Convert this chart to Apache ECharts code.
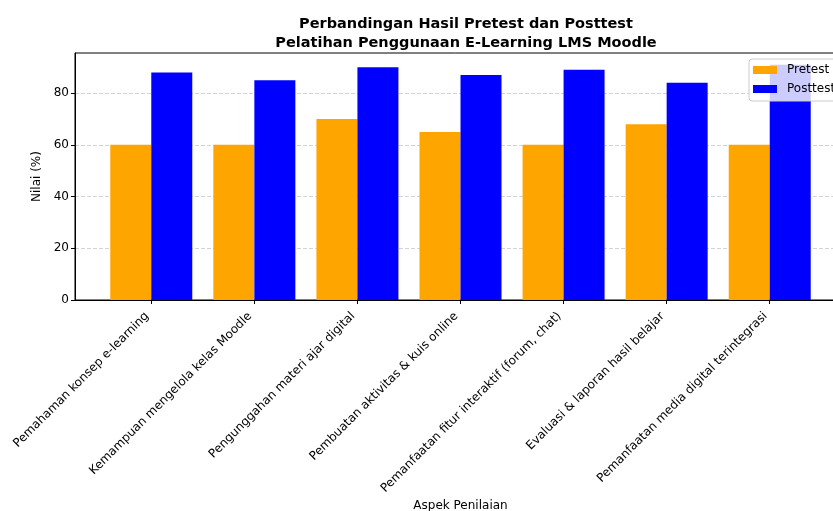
<!DOCTYPE html>
<html>
<head>
<meta charset="utf-8">
<script src="https://cdn.jsdelivr.net/npm/echarts@6/dist/echarts.min.js"></script>
<style>html,body{margin:0;padding:0;background:#fff}#c{width:833px;height:511px}</style>
</head>
<body>
<div id="c"></div>
<script>
const categories = [
  "Pemahaman konsep e-learning",
  "Kemampuan mengelola kelas Moodle",
  "Pengunggahan materi ajar digital",
  "Pembuatan aktivitas & kuis online",
  "Pemanfaatan fitur interaktif (forum, chat)",
  "Evaluasi & laporan hasil belajar",
  "Pemanfaatan media digital terintegrasi"
];
const pretest = [60, 60, 70, 65, 60, 68, 60];
const posttest = [88, 85, 90, 87, 89, 84, 91];
const yTicks = [0, 20, 40, 60, 80];

const FONT = "DejaVu Sans";
const idx = categories.map((_, i) => i);
const chart = echarts.init(document.getElementById('c'), null, {renderer: 'canvas'});
chart.setOption({
  animation: false,
  textStyle: {fontFamily: FONT},
  title: {
    text: "Perbandingan Hasil Pretest dan Posttest\nPelatihan Penggunaan E-Learning LMS Moodle",
    left: 461, top: 10, textAlign: 'center',
    textStyle: {fontFamily: FONT, fontSize: 14.5, fontWeight: 'bold', color: '#000', lineHeight: 19}
  },
  legend: {
    orient: 'vertical', left: 749, top: 59,
    itemWidth: 24, itemHeight: 8, itemGap: 7,
    padding: [5, 6, 6, 4],
    backgroundColor: 'rgba(255,255,255,0.8)',
    borderColor: '#cccccc', borderWidth: 1, borderRadius: 3,
    textStyle: {fontFamily: FONT, fontSize: 12, color: '#000', padding: [0, 0, 0, 5]},
    icon: 'rect',
    data: ['Pretest', 'Posttest']
  },
  grid: {left: 75, width: 771, top: 53, height: 247, containLabel: false, outerBoundsMode: 'none',
         show: true, borderColor: '#000', borderWidth: 1, backgroundColor: 'transparent'},
  xAxis: {
    type: 'value', min: -0.74, max: 6.74,
    name: 'Aspek Penilaian', nameLocation: 'middle', nameGap: 200,
    nameTextStyle: {fontFamily: FONT, fontSize: 12, color: '#000'},
    axisLine: {show: true, onZero: false, lineStyle: {color: '#000'}},
    axisTick: {show: true, customValues: idx, length: 4, lineStyle: {color: '#000'}},
    axisLabel: {
      customValues: idx, rotate: 45, margin: 10, padding: [0, 6, 0, 0],
      fontFamily: FONT, fontSize: 12, color: '#000',
      formatter: v => categories[Math.round(v)]
    },
    splitLine: {show: false}
  },
  yAxis: {
    type: 'value', min: 0, max: 95.5, interval: 20,
    name: 'Nilai (%)', nameLocation: 'middle', nameGap: 26,
    nameTextStyle: {fontFamily: FONT, fontSize: 12, color: '#000'},
    axisLine: {show: true, onZero: false, lineStyle: {color: '#000'}},
    axisTick: {show: true, customValues: yTicks, length: 4, lineStyle: {color: '#000'}},
    axisLabel: {customValues: yTicks, fontFamily: FONT, fontSize: 12, color: '#000', margin: 6},
    splitLine: {show: true, lineStyle: {color: 'rgba(176,176,176,0.7)', type: [4, 2], width: 0.8}}
  },
  series: [
    {name: 'Pretest', type: 'bar', barWidth: 41, barGap: '0%',
     itemStyle: {color: '#FFA500'}, data: pretest.map((v, i) => [i, v])},
    {name: 'Posttest', type: 'bar', barWidth: 41, barGap: '0%',
     itemStyle: {color: '#0000FF'}, data: posttest.map((v, i) => [i, v])}
  ]
});
</script>
</body>
</html>
